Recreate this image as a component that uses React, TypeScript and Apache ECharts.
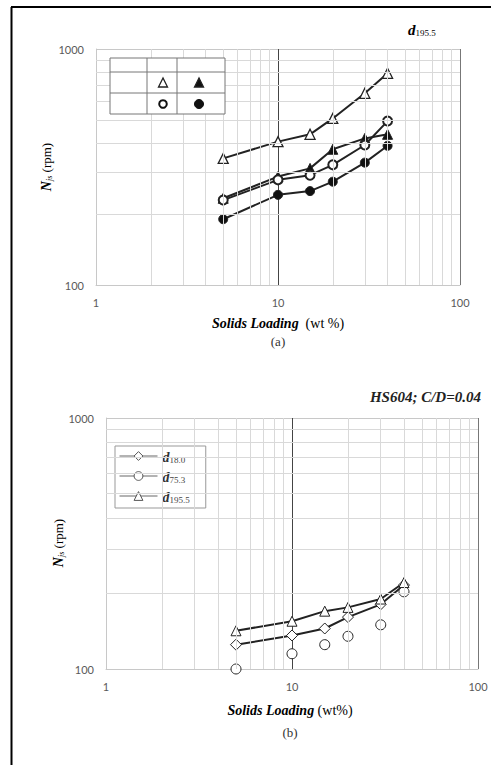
import React, { useEffect, useRef } from "react";
import * as echarts from "echarts";

// ---- data ----
const solidsLoading = [5, 10, 15, 20, 30, 40];
// (a) d195.5
const aOpenTriangle = [344, 405, 435, 508, 649, 789];
const aFilledTriangle = [233, 288, 312, 376, 418, 435];
const aOpenCircle = [229, 279, 292, 323, 392, 495];
const aFilledCircle = [190, 241, 250, 274, 330, 389];
// (b) HS604; C/D=0.04
const bD18 = [125, 136, 145, 161, 181, 216];
const bD75 = [100, 115, 125, 135, 150, 203];
const bD195 = [142, 155, 170, 176, 190, 221];
const legendNames = ["d18.0", "d75.3", "d195.5"];
// minor log grid values
const xMinor = [2, 3, 4, 5, 6, 7, 8, 9, 20, 30, 40, 50, 60, 70, 80, 90];
const yMinor = [200, 300, 400, 500, 600, 700, 800, 900];

const SERIF = '"Liberation Serif", "DejaVu Serif", serif';
const SANS = 'Lato, "Open Sans", "Liberation Sans", sans-serif';

const pairs = (ys: number[]) => solidsLoading.map((x, i) => [x, ys[i]]);

export default function App() {
  const ref = useRef<HTMLDivElement>(null);
  useEffect(() => {
    const chart = echarts.init(ref.current!, null, { renderer: "svg" });
    const axisLabel = {
      color: "#595959",
      fontSize: 11,
      fontFamily: SANS,
      formatter: (v: number) => String(Math.round(v)),
    };
    const xAxis = [0, 1].map((i) => ({
      type: "log",
      logBase: 10,
      min: 1,
      max: 100,
      gridIndex: i,
      axisLine: { show: true, lineStyle: { color: "#c8c8c8", width: 1 } },
      axisTick: { show: false },
      axisLabel: { ...axisLabel, margin: 12 },
      splitLine: { show: true, lineStyle: { color: ["#c8c8c8", "#444", "#777"], width: 1 } },
    }));
    const yAxis = [0, 1].map((i) => ({
      type: "log",
      logBase: 10,
      min: 100,
      max: 1000,
      gridIndex: i,
      axisLine: { show: true, lineStyle: { color: "#c8c8c8", width: 1 } },
      axisTick: { show: false },
      axisLabel: { ...axisLabel, margin: 12 },
      splitLine: { show: true, lineStyle: { color: "#c8c8c8", width: 1 } },
    }));
    const minorGrid = (i: number) => ({
      name: "_grid" + i,
      type: "line",
      xAxisIndex: i,
      yAxisIndex: i,
      data: [],
      z: 1,
      silent: true,
      markLine: {
        silent: true,
        symbol: "none",
        animation: false,
        label: { show: false },
        lineStyle: { color: "#d9d9d9", width: 1, type: "solid" },
        data: [...xMinor.map((v) => ({ xAxis: v })), ...yMinor.map((v) => ({ yAxis: v }))],
      },
    });
    const lineSeries = (
      name: string,
      grid: number,
      ys: number[],
      symbol: string,
      size: number,
      fill: string,
      borderWidth: number,
      showLine = true
    ) => ({
      name,
      type: "line",
      xAxisIndex: grid,
      yAxisIndex: grid,
      data: pairs(ys),
      symbol,
      symbolSize: size,
      showSymbol: true,
      clip: false,
      z: 3,
      lineStyle: { color: "#222", width: 2, opacity: showLine ? 1 : 0 },
      itemStyle: { color: fill, borderColor: "#222", borderWidth },
    });
    const subRich = {
      d: { fontFamily: SERIF, fontStyle: "italic", fontWeight: "bold", fontSize: 14, color: "#222", verticalAlign: "bottom", lineHeight: 16 },
      s: { fontFamily: SERIF, fontSize: 9, color: "#333", verticalAlign: "bottom", lineHeight: 12 },
    };
    const yName = (x: number, y: number) => ({
      type: "text",
      x,
      y,
      rotation: Math.PI / 2,
      z: 10,
      style: {
        text: "{n|N}{s|js} {r|(rpm)}",
        align: "center",
        verticalAlign: "middle",
        rich: {
          n: { fontFamily: SERIF, fontStyle: "italic", fontWeight: "bold", fontSize: 14, color: "#222", verticalAlign: "bottom", lineHeight: 16 },
          s: { fontFamily: SERIF, fontStyle: "italic", fontSize: 8, color: "#333", verticalAlign: "bottom", lineHeight: 12 },
          r: { fontFamily: SERIF, fontSize: 13, color: "#333", verticalAlign: "bottom", lineHeight: 16 },
        },
      },
    });
    const xName = (x: number, y: number, unit: string) => ({
      type: "text",
      x,
      y,
      z: 10,
      style: {
        text: `{b|Solids Loading}{r|${unit}}`,
        align: "center",
        verticalAlign: "middle",
        rich: {
          b: { fontFamily: SERIF, fontStyle: "italic", fontWeight: "bold", fontSize: 14, color: "#222" },
          r: { fontFamily: SERIF, fontSize: 14, color: "#333" },
        },
      },
    });
    const caption = (x: number, y: number, t: string) => ({
      type: "text",
      x,
      y,
      z: 10,
      style: { text: t, align: "center", verticalAlign: "middle", fontFamily: SERIF, fontSize: 13, fill: "#333" },
    });
    const tableLine = (x1: number, y1: number, x2: number, y2: number) => ({
      type: "line",
      z: 11,
      shape: { x1, y1, x2, y2 },
      style: { stroke: "#777", lineWidth: 1 },
    });
    const tri = (cx: number, cy: number, fill: string) => ({
      type: "polygon",
      z: 12,
      shape: { points: [[cx, cy - 5], [cx - 4.5, cy + 4], [cx + 4.5, cy + 4]] },
      style: { fill, stroke: "#222", lineWidth: 1.3 },
    });
    const cir = (cx: number, cy: number, fill: string, r: number, lw: number) => ({
      type: "circle",
      z: 12,
      shape: { cx, cy, r },
      style: { fill, stroke: "#111", lineWidth: lw },
    });

    const option: any = {
      animation: false,
      backgroundColor: "#fff",
      grid: [
        { left: 96, top: 49, width: 364, height: 236, outerBoundsMode: "none" },
        { left: 106, top: 418, width: 372, height: 251, outerBoundsMode: "none" },
      ],
      xAxis,
      yAxis,
      legend: {
        orient: "vertical",
        left: 115,
        top: 446,
        data: legendNames,
        itemWidth: 38,
        itemHeight: 11,
        itemGap: 6,
        padding: [4, 16, 4, 4],
        borderColor: "#999",
        borderWidth: 1,
        backgroundColor: "#fff",
        selectedMode: false,
        lineStyle: { color: "#666", width: 1, opacity: 1 },
        itemStyle: { color: "#fff", borderColor: "#555", borderWidth: 1 },
        formatter: (n: string) => `{d|d}{s|${n.slice(1)}}`,
        textStyle: {
          color: "#333",
          rich: { ...subRich, d: { ...subRich.d, color: "#333" }, s: { ...subRich.s, color: "#444" } },
        },
      },
      series: [
        minorGrid(0),
        minorGrid(1),
        lineSeries("open triangle", 0, aOpenTriangle, "triangle", 10, "#fff", 1.3),
        lineSeries("filled triangle", 0, aFilledTriangle, "triangle", 10, "#111", 1),
        lineSeries("open circle", 0, aOpenCircle, "circle", 9, "#fff", 2),
        lineSeries("filled circle", 0, aFilledCircle, "circle", 9, "#111", 1),
        lineSeries("d18.0", 1, bD18, "diamond", 11, "#fff", 1),
        lineSeries("d75.3", 1, bD75, "circle", 10, "#fff", 1, false),
        lineSeries("d195.5", 1, bD195, "triangle", 10, "#fff", 1),
      ],
      graphic: [
        { type: "line", z: 20, shape: { x1: 11.5, y1: 7, x2: 11.5, y2: 765 }, style: { stroke: "#000", lineWidth: 2 } },
        { type: "line", z: 20, shape: { x1: 11, y1: 7, x2: 491, y2: 7 }, style: { stroke: "#000", lineWidth: 2 } },
        {
          type: "text",
          x: 408,
          y: 29,
          z: 10,
          style: {
            text: "{d|d}{s|195.5}",
            verticalAlign: "middle",
            rich: { d: { ...subRich.d, fontSize: 15 }, s: subRich.s },
          },
        },
        {
          type: "text",
          x: 481,
          y: 397,
          z: 10,
          style: {
            text: "HS604; C/D=0.04",
            align: "right",
            verticalAlign: "middle",
            fontFamily: SERIF,
            fontStyle: "italic",
            fontWeight: "bold",
            fontSize: 15,
            fill: "#222",
          },
        },
        yName(45, 167),
        yName(57, 543),
        xName(278, 323, "  (wt %)"),
        caption(278, 341, "(a)"),
        xName(290, 710, " (wt%)"),
        caption(290, 732, "(b)"),
        // legend table for (a)
        { type: "rect", z: 10, shape: { x: 110, y: 58, width: 115, height: 56 }, style: { fill: "#fff", stroke: "#777", lineWidth: 1 } },
        tableLine(110, 72, 225, 72),
        tableLine(110, 93, 225, 93),
        tableLine(147, 58, 147, 114),
        tableLine(177, 58, 177, 114),
        tri(163, 83, "#fff"),
        tri(199, 83, "#111"),
        cir(163, 104, "#fff", 3.8, 2),
        cir(199, 104, "#111", 4.5, 1),
      ],
    };
    chart.setOption(option);
    return () => chart.dispose();
  }, []);
  return (
    <div
      ref={ref}
      style={{ position: "absolute", left: 0, top: 0, width: 491, height: 765, background: "#fff" }}
    />
  );
}
